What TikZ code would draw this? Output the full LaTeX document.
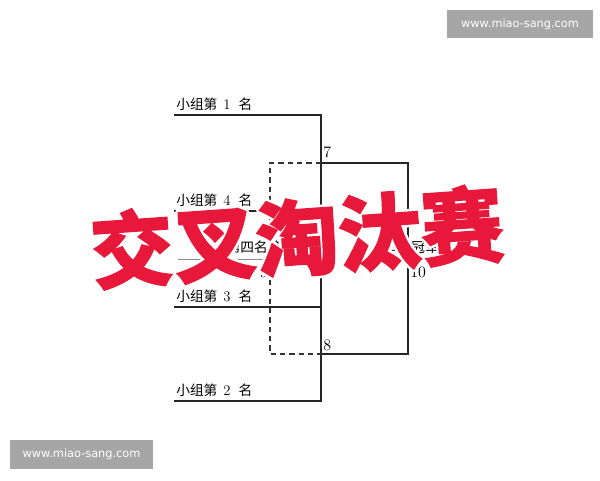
\documentclass[tikz,border=0pt]{standalone}
\usepackage{fontspec}
\newfontfamily\cjk{Noto Sans CJK SC}
\newfontfamily\stampfont[FakeBold=1.6]{Noto Sans CJK SC}
\newfontfamily\websans{DejaVu Sans}
\usetikzlibrary{calc}

\definecolor{stampred}{RGB}{232,24,58}
\definecolor{markgray}{RGB}{166,166,166}

\tikzset{
  bracket/.style={line width=1.1pt, black!85},
  loserline/.style={line width=1pt, black!80, dash pattern=on 4pt off 3pt},
  placeline/.style={line width=0.5pt, black!45},
  teamlabel/.style={font=\cjk\fontsize{10.3}{10.3}\selectfont, inner sep=0pt},
  matchno/.style={font=\fontsize{12}{12}\selectfont, inner sep=0pt},
  stamp/.style={font=\stampfont\bfseries\fontsize{62}{62}\selectfont, inner sep=0pt, rotate=4},
  watermark/.style={fill=markgray, text=white, inner sep=0pt,
    font=\websans\fontsize{8.5}{8.5}\selectfont},
}
\newcommand\groupname[1]{小组第\hspace{4.5pt}{\rmfamily\fontsize{11}{11}\selectfont #1}\hspace{6pt}名}

\begin{document}
\begin{tikzpicture}[x=0.75pt,y=-0.75pt]
\useasboundingbox (0,0) rectangle (600,480);

% first round
\coordinate (t1) at (174,115);
\coordinate (t4) at (174,211);
\coordinate (t3) at (174,307);
\coordinate (t2) at (174,401);
\coordinate (j1) at (321,115);
\coordinate (j2) at (321,401);
\draw[bracket] (t1) -- (j1) -- (j2) -- (t2);
\draw[bracket] (t4) -- (t4 -| j1);
\draw[bracket] (t3) -- (t3 -| j1);

% final and third place
\coordinate (m7) at (321,163);
\coordinate (m8) at (321,354);
\coordinate (f7) at (408,163);
\coordinate (f8) at (408,354);
\coordinate (l7) at (270,163);
\coordinate (l8) at (270,354);
\draw[bracket] (m7) -- (f7) -- (f8) -- (m8);
\draw[loserline] (m7) -- (l7) -- (l8) -- (m8);
\coordinate (p9a) at (178,259);
\coordinate (p9b) at (321,259);
\coordinate (p10a) at (370,259);
\coordinate (p10b) at (438,259);
\draw[placeline] (p9a) -- (p9b);
\draw[placeline] (p10a) -- (p10b);

\node[teamlabel,anchor=south west] (g1) at (176,111) {\groupname{1}};
\node[teamlabel,anchor=south west] (g4) at (176,207) {\groupname{4}};
\node[teamlabel,anchor=south west] (g3) at (176,303) {\groupname{3}};
\node[teamlabel,anchor=south west] (g2) at (176,397) {\groupname{2}};

\node[teamlabel,anchor=south east] (r4) at (268,254) {第四名};
\node[teamlabel,anchor=south west] (r3) at (273,254) {第三名};
\node[teamlabel,anchor=south east] (r2) at (405,254) {亚军};
\node[teamlabel,anchor=south west] (r1) at (411,254) {冠军};

\node[matchno,anchor=south west] (n7) at (323,158) {7};
\node[matchno,anchor=south west] (n8) at (323,351) {8};
\node[matchno,anchor=north east] (n9) at (268,267) {9};
\node[matchno,anchor=north west] (n10) at (410,267) {10};

% title stamp with white rim
\coordinate (sc) at (297,237);
\foreach \a in {0,30,...,330}
  \node[stamp,text=white] (halo\a) at ($(sc)+(\a:2.5)$) {交叉淘汰赛};
\node[stamp,text=stampred] (title) at (sc) {交叉淘汰赛};

% site marks
\node[watermark,minimum width=109.5pt,minimum height=21pt] (wm1) at (520,24) {www.miao-sang.com};
\node[watermark,minimum width=107pt,minimum height=22pt] (wm2) at (81.5,454.5) {www.miao-sang.com};
\end{tikzpicture}
\end{document}
